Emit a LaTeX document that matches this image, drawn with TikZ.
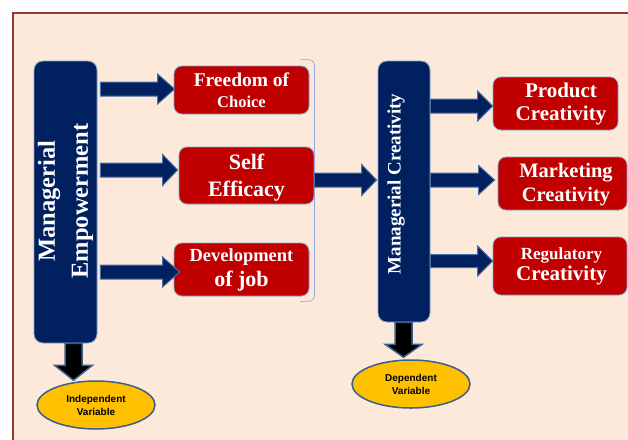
\documentclass[tikz,border=0pt]{standalone}
\usepackage{fontspec}
\setmainfont{Liberation Serif}
\newfontfamily\arialfont{Liberation Sans}
\usetikzlibrary{calc,shapes.geometric}
\definecolor{bgpeach}{HTML}{FDE9D9}
\definecolor{framered}{HTML}{953735}
\definecolor{navy}{HTML}{002060}
\definecolor{boxred}{HTML}{C00000}
\definecolor{gold}{HTML}{FFC000}
\definecolor{edgeblue}{HTML}{7FA3CF}
\definecolor{arrowedge}{HTML}{4A6FA5}
\definecolor{ellipseedge}{HTML}{3A5F8F}
\definecolor{bracketblue}{HTML}{8FAADC}
\tikzset{
  navybox/.style={draw=edgeblue, line width=0.8pt, fill=navy, rounded corners=9pt, inner sep=0pt},
  redbox/.style={draw=edgeblue, line width=0.8pt, fill=boxred, rounded corners=8pt, inner sep=0pt,
    text=white, align=center},
  boxtext/.style={text=white, align=center, inner sep=0pt},
  vartag/.style={ellipse, draw=ellipseedge, line width=1.5pt, fill=gold, inner sep=0pt,
    minimum width=118pt, minimum height=48pt, align=center,
    font=\arialfont\bfseries\fontsize{10}{13}\selectfont},
  harrowstyle/.style={fill=navy, draw=arrowedge, line width=1pt},
  varrowstyle/.style={fill=black, draw=ellipseedge, line width=1.5pt},
  vtext/.style={rotate=90, text=white, align=center, inner sep=0pt}
}
% #1 style, #2 start, #3 tip, #4 shaft half, #5 head half, #6 head length
\newcommand{\harrowdraw}[6]{%
  \path[#1] let \p1=#2, \p2=#3 in
    (\x1,\y1+#4pt) -- (\x2-#6pt,\y1+#4pt) -- (\x2-#6pt,\y1+#5pt) -- (\x2,\y1)
    -- (\x2-#6pt,\y1-#5pt) -- (\x2-#6pt,\y1-#4pt) -- (\x1,\y1-#4pt) -- cycle;}
\newcommand{\varrowdraw}[6]{%
  \path[#1] let \p1=#2, \p2=#3 in
    (\x1-#4pt,\y1) -- (\x1-#4pt,\y2+#6pt) -- (\x1-#5pt,\y2+#6pt) -- (\x1,\y2)
    -- (\x1+#5pt,\y2+#6pt) -- (\x1+#4pt,\y2+#6pt) -- (\x1+#4pt,\y1) -- cycle;}
\begin{document}
\begin{tikzpicture}[x=1pt,y=-1pt]
\useasboundingbox (0,0) rectangle (628,439);
\fill[white] (0,0) rectangle (628,439);
\begin{scope}
\clip (0,0) rectangle (628,439);
\draw[framered, line width=1.6pt, fill=bgpeach] (13,13) rectangle (660,470);
\end{scope}

% main boxes
\node[navybox, minimum width=63pt, minimum height=282pt] (me) at (65.5,202) {};
\node[vtext, font=\bfseries\fontsize{24.5}{33}\selectfont] (metext) at (65.5,201) {Managerial\\Empowerment};

\node[redbox, minimum width=135pt, minimum height=48pt, font=\bfseries\fontsize{19.5}{21}\selectfont] (fc) at (241.5,90)
  {Freedom of\\{\fontsize{16.5}{18}\selectfont Choice}};
\node[redbox, minimum width=135pt, minimum height=57pt] (se) at (246.5,175.5) {};
\node[boxtext, font=\bfseries\fontsize{22}{27}\selectfont] (setext) at ($(se)+(0,2)$) {Self\\Efficacy};
\node[redbox, minimum width=135pt, minimum height=53pt, font=\bfseries\fontsize{18.5}{25}\selectfont] (dj) at (241.5,269.5)
  {Development\\{\fontsize{22}{25}\selectfont of job}};

\node[navybox, minimum width=52pt, minimum height=261pt] (mc) at (404,191.5) {};
\node[vtext, font=\bfseries\fontsize{19}{22}\selectfont] (mctext) at (396,184) {Managerial Creativity};

\node[redbox, minimum width=125pt, minimum height=53pt] (pc) at (555.5,103.5) {};
\node[boxtext, font=\bfseries\fontsize{21}{23}\selectfont] (pctext) at ($(pc)+(5.5,0)$) {Product\\Creativity};
\node[redbox, minimum width=129pt, minimum height=53pt] (mk) at (562.5,183.5) {};
\node[boxtext, font=\bfseries\fontsize{20.5}{24}\selectfont] (mktext) at ($(mk)+(3.5,1)$) {Marketing\\Creativity};
\node[redbox, minimum width=134pt, minimum height=58pt] (rc) at (560,266) {};
\node[boxtext, font=\bfseries\fontsize{17}{21}\selectfont] (rctext) at ($(rc)+(1.5,0)$)
  {Regulatory\\{\fontsize{21}{21}\selectfont Creativity}};

\node[vartag] (iv) at (96,405) {Independent\\Variable};
\node[vartag] (dv) at (411,384) {Dependent\\Variable};

% bracket
\coordinate (brt) at ($(fc.north east)+(-9,-6)$);
\coordinate (brb) at ($(dj.south east)+(-9,5)$);
\draw[bracketblue, line width=0.7pt] (brt) .. controls ($(brt)+(12,0)$) .. ($(brt)+(14,5)$)
  -- ($(brb)+(14,-5)$) .. controls ($(brb)+(12,0)$) .. (brb);

% horizontal arrows left
\coordinate (a1s) at ($(me.east|-fc.west)+(3,-1)$);
\coordinate (a1t) at ($(fc.west)+(1,0)$);
\harrowdraw{harrowstyle}{(a1s)}{(a1t)}{7}{15}{17}
\coordinate (a2s) at ($(me.east|-se.west)+(3,-5.5)$);
\coordinate (a2t) at ($(se.west)+(-1,0)$);
\harrowdraw{harrowstyle}{(a2s)}{(a2t)}{7}{15.5}{15}
\coordinate (a3s) at ($(me.east|-dj.west)+(3,2.5)$);
\coordinate (a3t) at ($(dj.west)+(6,0)$);
\harrowdraw{harrowstyle}{(a3s)}{(a3t)}{7}{15}{17}

% self efficacy -> managerial creativity
\coordinate (a4s) at ($(se.east)+(0,4.5)$);
\coordinate (a4t) at ($(mc.west)+(-1,0)$);
\harrowdraw{harrowstyle}{(a4s)}{(a4t)}{7}{15.5}{15}

% right arrows
\coordinate (a5s) at ($(mc.east|-pc.west)+(0,2.5)$);
\harrowdraw{harrowstyle}{(a5s)}{(pc.west)}{7}{15}{15}
\coordinate (a6s) at ($(mc.east|-mk.west)+(0,-3.5)$);
\coordinate (a6t) at ($(mk.west)+(-3,0)$);
\harrowdraw{harrowstyle}{(a6s)}{(a6t)}{7}{14.5}{16}
\coordinate (a7s) at ($(mc.east|-rc.west)+(0,-5)$);
\harrowdraw{harrowstyle}{(a7s)}{(rc.west)}{6.5}{15}{15}

% down arrows
\coordinate (d1s) at ($(me.south)+(8,0)$);
\varrowdraw{varrowstyle}{(d1s)}{(iv.north)}{8.5}{19}{15}
\coordinate (d2s) at ($(mc.south)+(-0.5,0)$);
\coordinate (d2t) at ($(dv.north)+(0,-2)$);
\varrowdraw{varrowstyle}{(d2s)}{(d2t)}{8.5}{18.5}{13}
\end{tikzpicture}
\end{document}
